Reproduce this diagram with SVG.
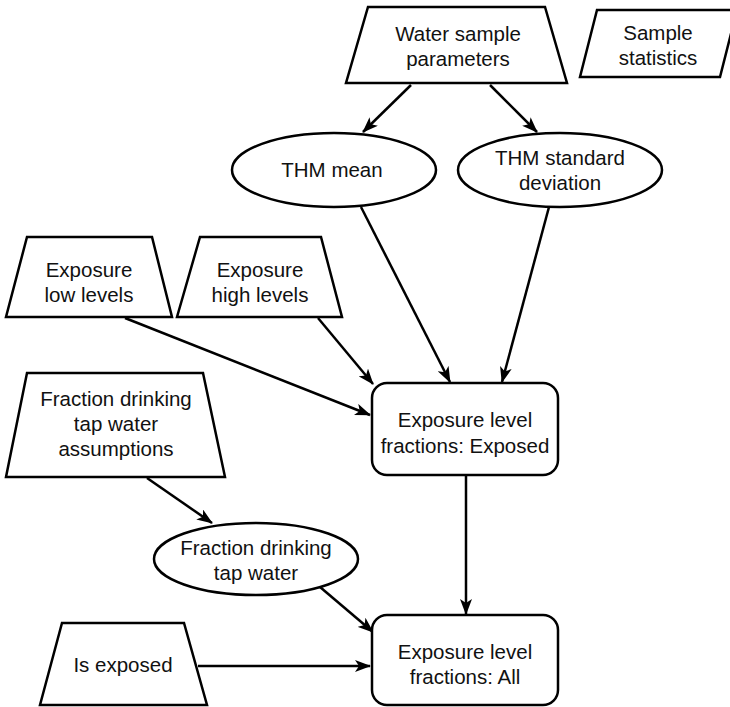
<svg xmlns="http://www.w3.org/2000/svg" width="730" height="707" viewBox="0 0 730 707">
  <style>
    .shape { fill: #ffffff; stroke: #000000; stroke-width: 2.5; stroke-linejoin: miter; }
    .label { font-family: "Liberation Sans", Arial, Helvetica, sans-serif; font-size: 20.5px; fill: #111111; text-anchor: middle; }
    .edge { fill: none; stroke: #000000; stroke-width: 2.5; marker-end: url(#arrow); }
  </style>
  <defs>
    <marker id="arrow" markerUnits="userSpaceOnUse" viewBox="0 0 16 12" refX="15" refY="6" markerWidth="16" markerHeight="12" orient="auto">
      <path d="M0,0 L16,6 L0,12 L4,6 Z" fill="#000000"/>
    </marker>
  </defs>
  <rect width="730" height="707" fill="#ffffff"/>

  <!-- connectors -->
  <g id="edges">
    <line class="edge" x1="411" y1="85" x2="363" y2="132"/>
    <line class="edge" x1="490" y1="85" x2="537" y2="132"/>
    <line class="edge" x1="361" y1="207" x2="450" y2="382"/>
    <line class="edge" x1="549" y1="207" x2="502" y2="382"/>
    <line class="edge" x1="318" y1="318" x2="373" y2="384"/>
    <line class="edge" x1="125" y1="318" x2="370" y2="415"/>
    <line class="edge" x1="466" y1="476" x2="466" y2="614"/>
    <line class="edge" x1="147" y1="478" x2="212" y2="523"/>
    <line class="edge" x1="320" y1="587" x2="373" y2="632"/>
    <line class="edge" x1="198" y1="666" x2="370" y2="666"/>
  </g>

  <g id="water-sample-parameters">
    <polygon class="shape" points="368,7 545,7 567,83 346,83"/>
    <text class="label" x="458" y="41">Water sample</text>
    <text class="label" x="458" y="66">parameters</text>
  </g>

  <g id="sample-statistics">
    <polygon class="shape" points="597,10 737,10 720,77 580,77"/>
    <text class="label" x="658" y="40">Sample</text>
    <text class="label" x="658" y="65">statistics</text>
  </g>

  <g id="thm-mean">
    <ellipse class="shape" cx="334" cy="170" rx="102" ry="37"/>
    <text class="label" x="332" y="177">THM mean</text>
  </g>

  <g id="thm-std">
    <ellipse class="shape" cx="560" cy="170" rx="102" ry="37"/>
    <text class="label" x="560" y="165">THM standard</text>
    <text class="label" x="560" y="190">deviation</text>
  </g>

  <g id="exposure-low">
    <polygon class="shape" points="27,237 152,237 172,317 6,317"/>
    <text class="label" x="89" y="277">Exposure</text>
    <text class="label" x="89" y="302">low levels</text>
  </g>

  <g id="exposure-high">
    <polygon class="shape" points="200,237 321,237 342,317 177,317"/>
    <text class="label" x="260" y="277">Exposure</text>
    <text class="label" x="260" y="302">high levels</text>
  </g>

  <g id="fraction-assumptions">
    <polygon class="shape" points="27,373 203,373 225,477 6,477"/>
    <text class="label" x="116" y="406">Fraction drinking</text>
    <text class="label" x="116" y="431">tap water</text>
    <text class="label" x="116" y="456">assumptions</text>
  </g>

  <g id="fractions-exposed">
    <rect class="shape" x="372" y="383" width="186" height="92" rx="15" ry="15"/>
    <text class="label" x="465" y="427">Exposure level</text>
    <text class="label" x="465" y="453">fractions: Exposed</text>
  </g>

  <g id="fraction-tap-water">
    <ellipse class="shape" cx="256" cy="559" rx="102" ry="36"/>
    <text class="label" x="256" y="555">Fraction drinking</text>
    <text class="label" x="256" y="580">tap water</text>
  </g>

  <g id="is-exposed">
    <polygon class="shape" points="62,623 184,623 207,705 40,705"/>
    <text class="label" x="123" y="672">Is exposed</text>
  </g>

  <g id="fractions-all">
    <rect class="shape" x="372" y="615" width="186" height="90" rx="15" ry="15"/>
    <text class="label" x="465" y="659">Exposure level</text>
    <text class="label" x="465" y="684">fractions: All</text>
  </g>
</svg>
